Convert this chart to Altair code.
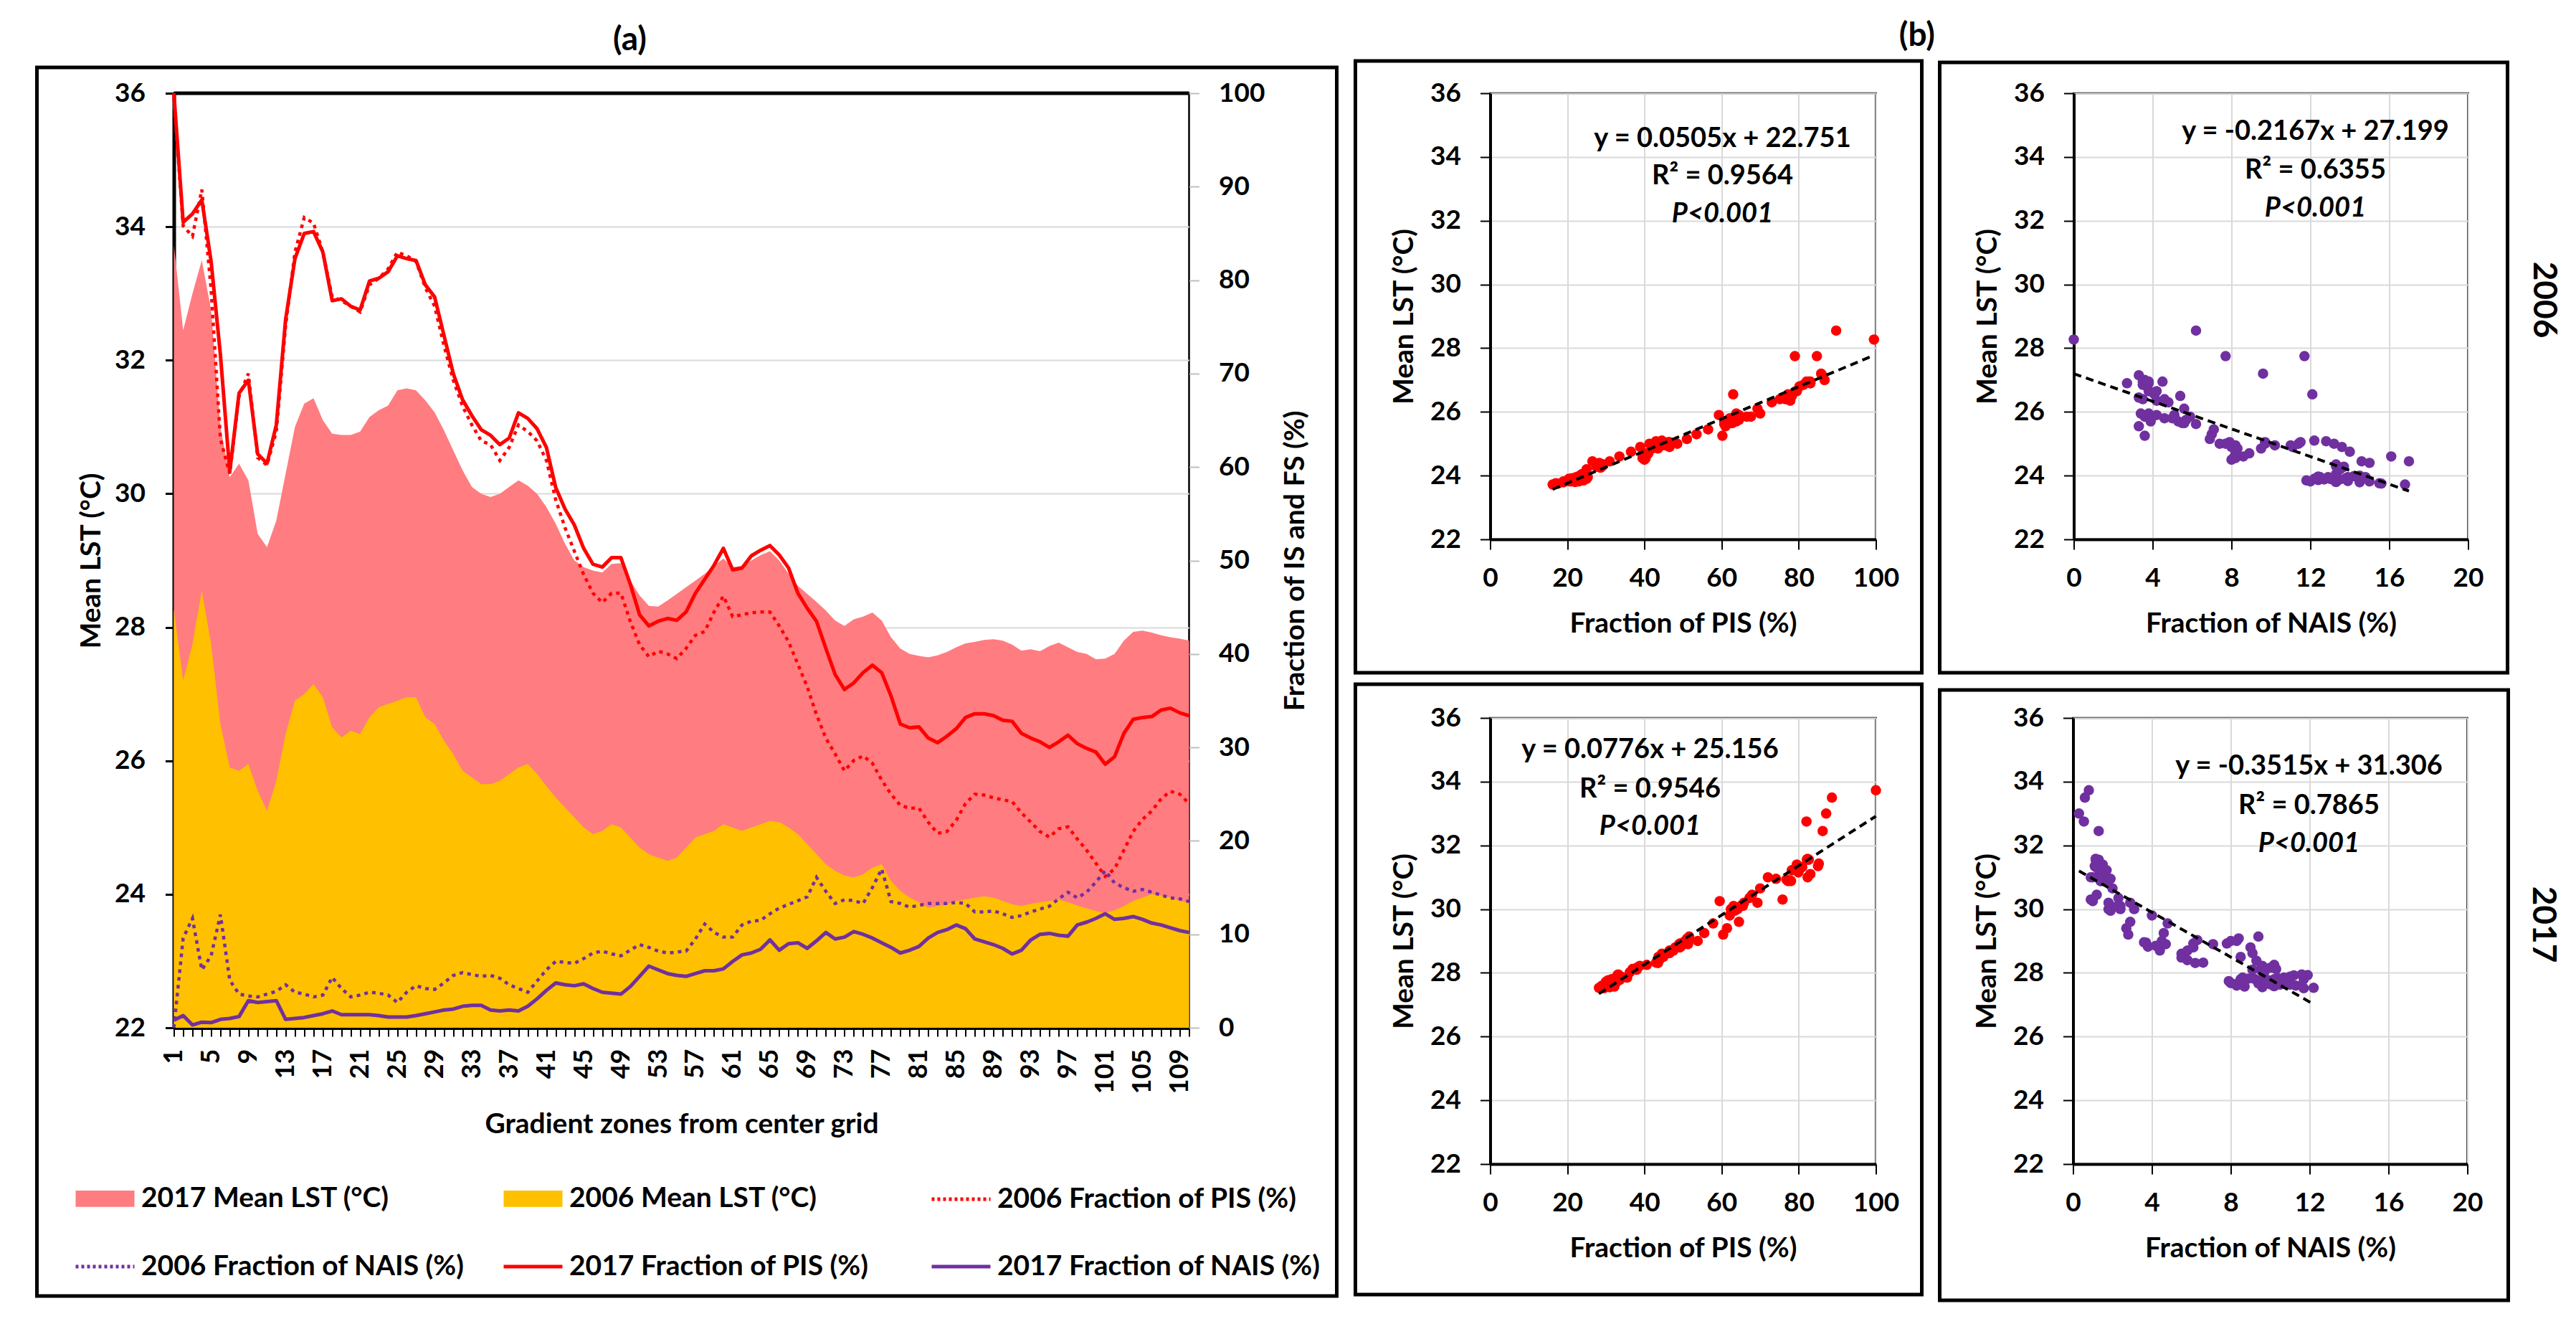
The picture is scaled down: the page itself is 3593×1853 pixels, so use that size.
import altair as alt
import pandas as pd

# ---------------- data ----------------
zones = list(range(1, 111))
zone_labels = list(range(1, 110, 4))
lst_ticks = list(range(22, 37, 2))
frac_ticks = list(range(0, 101, 10))
pis_ticks = list(range(0, 101, 20))
nais_ticks = list(range(0, 21, 4))

lst_2017 = [33.73, 32.45, 33.0, 33.5, 32.75, 31.0, 30.25, 30.45, 30.2, 29.4,
            29.2, 29.6, 30.3, 31.0, 31.35, 31.43, 31.1, 30.9, 30.88, 30.88,
            30.93, 31.15, 31.25, 31.32, 31.55, 31.58, 31.55, 31.4, 31.22, 30.95,
            30.65, 30.35, 30.1, 30.0, 29.95, 30.0, 30.1, 30.2, 30.12, 30.0,
            29.8, 29.55, 29.25, 29.0, 28.9, 28.85, 28.82, 28.95, 28.96, 28.7,
            28.48, 28.32, 28.31, 28.4, 28.5, 28.6, 28.7, 28.8, 28.92, 29.03,
            28.9, 28.92, 29.0, 29.08, 29.14, 29.0, 28.8, 28.62, 28.5, 28.38,
            28.25, 28.1, 28.02, 28.12, 28.16, 28.22, 28.1, 27.85, 27.68, 27.6,
            27.57, 27.55, 27.58, 27.63, 27.7, 27.76, 27.78, 27.81, 27.82, 27.8,
            27.74, 27.65, 27.67, 27.64, 27.72, 27.77, 27.7, 27.63, 27.6, 27.52,
            27.53, 27.6, 27.8, 27.93, 27.95, 27.92, 27.88, 27.85, 27.83, 27.8]

lst_2006 = [28.27, 27.2, 27.75, 28.55, 27.75, 26.55, 25.9, 25.85, 25.95, 25.55,
            25.25, 25.7, 26.4, 26.9, 27.0, 27.15, 26.95, 26.5, 26.35, 26.45,
            26.4, 26.65, 26.8, 26.85, 26.9, 26.95, 26.95, 26.65, 26.55, 26.3,
            26.1, 25.85, 25.75, 25.65, 25.65, 25.7, 25.8, 25.9, 25.95, 25.8,
            25.62, 25.45, 25.3, 25.15, 25.0, 24.9, 24.95, 25.05, 25.0, 24.85,
            24.7, 24.6, 24.55, 24.5, 24.55, 24.7, 24.85, 24.9, 24.95, 25.05,
            25.0, 24.95, 25.0, 25.05, 25.1, 25.08, 25.0, 24.9, 24.75, 24.6,
            24.45, 24.35, 24.28, 24.25, 24.3, 24.4, 24.45, 24.2, 24.05, 23.95,
            23.88, 23.8, 23.82, 23.85, 23.9, 23.92, 23.95, 23.97, 23.95, 23.9,
            23.85, 23.82, 23.86, 23.88, 23.9, 23.92, 23.88, 23.83, 23.79, 23.75,
            23.72, 23.76, 23.82, 23.9, 23.95, 24.0, 23.98, 23.95, 23.9, 23.88]

pis_2006 = [99.5, 85.8, 84.7, 89.7, 79.0, 63.0, 59.3, 67.6, 70.0, 61.0,
            60.2, 63.8, 75.1, 83.0, 86.7, 86.1, 83.0, 78.2, 77.8, 77.2,
            76.6, 79.5, 80.2, 81.2, 83.0, 82.6, 82.0, 79.2, 77.2, 73.0,
            69.3, 66.5, 64.5, 62.8, 62.4, 60.7, 62.1, 64.5, 63.8, 62.8,
            60.7, 56.5, 53.5, 51.0, 48.5, 46.5, 45.5, 46.5, 46.5, 43.5,
            41.0, 39.7, 40.3, 40.0, 39.5, 40.6, 42.0, 42.4, 44.5, 46.2,
            44.0, 44.2, 44.4, 44.5, 44.5, 43.0, 41.3, 38.9, 36.5, 33.5,
            31.0, 29.3, 27.5, 28.6, 29.1, 28.3, 26.5, 25.0, 23.8, 23.5,
            23.5, 22.0, 20.8, 21.0, 22.2, 24.0, 25.0, 24.9, 24.6, 24.4,
            24.2, 23.0, 22.0, 21.0, 20.4, 21.3, 21.5, 20.2, 19.0, 17.6,
            16.2, 17.0, 19.0, 21.0, 22.3, 23.2, 24.5, 25.3, 25.0, 24.0]

nais_2006 = [0.0, 9.6, 11.7, 6.2, 7.7, 12.1, 5.1, 3.6, 3.4, 3.3,
             3.6, 3.9, 4.6, 3.8, 3.6, 3.3, 3.5, 5.4, 4.2, 3.3,
             3.5, 3.8, 3.7, 3.5, 2.7, 3.8, 4.5, 4.2, 4.1, 4.8,
             5.6, 5.9, 5.7, 5.5, 5.6, 5.3, 4.6, 4.2, 3.8, 5.0,
             6.2, 7.1, 7.0, 6.9, 7.4, 8.0, 8.2, 7.9, 7.7, 8.3,
             8.9, 8.6, 8.2, 8.0, 8.1, 8.2, 9.5, 11.1, 10.2, 9.7,
             9.7, 11.0, 11.4, 11.5, 12.2, 12.8, 13.2, 13.6, 14.0, 16.1,
             14.6, 13.3, 13.7, 13.6, 13.3, 15.0, 17.0, 13.5, 13.3, 12.9,
             13.1, 13.3, 13.3, 13.3, 13.4, 13.3, 12.4, 12.4, 12.5, 12.2,
             11.8, 12.0, 12.4, 12.7, 13.0, 13.8, 14.5, 13.9, 14.5, 15.6,
             16.8, 15.5, 15.0, 14.6, 14.8, 14.5, 14.2, 13.9, 13.8, 13.5]

pis_2017 = [100.0, 86.2, 87.1, 88.6, 82.0, 72.0, 59.5, 67.9, 69.3, 61.4,
            60.4, 64.5, 75.8, 82.3, 85.0, 85.2, 83.0, 77.8, 78.0, 77.2,
            76.8, 79.9, 80.2, 80.9, 82.6, 82.3, 82.1, 79.5, 78.2, 74.1,
            70.0, 67.2, 65.5, 64.0, 63.4, 62.4, 63.1, 65.8, 65.2, 64.1,
            62.1, 57.8, 55.5, 53.8, 51.3, 49.6, 49.3, 50.3, 50.3, 47.5,
            44.2, 43.0, 43.5, 43.8, 43.6, 44.5, 46.5, 48.0, 49.5, 51.3,
            49.0, 49.2, 50.5, 51.1, 51.6, 50.6, 49.2, 46.5, 44.9, 43.5,
            40.6, 37.8, 36.2, 36.9, 38.0, 38.8, 38.0, 35.5, 32.5, 32.1,
            32.2, 31.0, 30.5, 31.2, 32.0, 33.2, 33.6, 33.6, 33.4, 32.9,
            32.8, 31.5, 31.0, 30.6, 30.0, 30.6, 31.3, 30.4, 29.9, 29.5,
            28.2, 29.0, 31.5, 33.0, 33.2, 33.3, 34.0, 34.2, 33.7, 33.4]

nais_2017 = [0.8, 1.3, 0.3, 0.6, 0.55, 0.9, 1.0, 1.2, 2.9, 2.7,
             2.8, 2.9, 0.9, 1.0, 1.1, 1.3, 1.5, 1.8, 1.4, 1.4,
             1.4, 1.4, 1.3, 1.15, 1.15, 1.15, 1.3, 1.5, 1.7, 1.9,
             2.0, 2.3, 2.4, 2.4, 1.9, 1.8, 1.9, 1.8, 2.3, 3.1,
             4.0, 4.8, 4.6, 4.5, 4.7, 4.2, 3.8, 3.7, 3.6, 4.4,
             5.5, 6.6, 6.2, 5.8, 5.6, 5.5, 5.8, 6.1, 6.1, 6.3,
             7.1, 7.8, 8.0, 8.4, 9.4, 8.3, 9.0, 9.1, 8.5, 9.3,
             10.2, 9.5, 9.7, 10.3, 10.0, 9.6, 9.1, 8.6, 8.0, 8.3,
             8.7, 9.6, 10.2, 10.5, 11.0, 10.6, 9.5, 9.2, 8.9, 8.5,
             7.9, 8.3, 9.4, 10.0, 10.1, 9.9, 9.8, 11.0, 11.3, 11.7,
             12.2, 11.6, 11.7, 11.9, 11.6, 11.2, 11.0, 10.7, 10.4, 10.2]

series_names = ["2017 Mean LST (°C)", "2006 Mean LST (°C)", "2006 Fraction of PIS (%)",
                "2006 Fraction of NAIS (%)", "2017 Fraction of PIS (%)", "2017 Fraction of NAIS (%)"]

fit_slopes = [0.0505, -0.2167, 0.0776, -0.3515]
fit_intercepts = [22.751, 27.199, 25.156, 31.306]
fit_r2 = [0.9564, 0.6355, 0.9546, 0.7865]
p_label = "P<0.001"
year_labels = ["2006", "2017"]
panel_tags = ["(a)", "(b)"]

# ---------------- styling ----------------
PINK, ORANGE, RED, PURPLE = "#FF7C80", "#FFC000", "#FF0000", "#7030A0"
FONT = "Lato"
GRID = "#D9D9D9"
DOT = [5, 6]

df = pd.DataFrame({
    "zone": zones, "lst_2017": lst_2017, "lst_2006": lst_2006,
    "pis_2006": pis_2006, "nais_2006": nais_2006,
    "pis_2017": pis_2017, "nais_2017": nais_2017,
})
one = pd.DataFrame({"k": [0]})

# ---------------- panel (a) ----------------
W_L, H_L = 1416, 1303

label_expr = "indexof([" + ",".join(str(v) for v in zone_labels) + "], datum.value) >= 0 ? datum.label : ''"
x_axis = alt.Axis(values=zones, labelExpr=label_expr, labelAngle=270, labelOverlap=False,
                  labelFlush=False, labelFontSize=36, labelPadding=17, tickSize=12, tickWidth=2,
                  tickColor="black", domainColor="black", domainWidth=5, grid=False,
                  title="Gradient zones from center grid", titleFontSize=39, titlePadding=24)
x_zone = alt.X("zone:Q", scale=alt.Scale(domain=[1, 110], nice=False, zero=False), axis=x_axis)

lst_axis = alt.Axis(values=lst_ticks, grid=True, gridColor=GRID, gridWidth=2, tickSize=12,
                    tickWidth=3, tickColor="black", domainColor="black", domainWidth=5,
                    labelFontSize=37, labelPadding=28, title="Mean LST (°C)",
                    titleFontSize=39, titleX=-115, titleBaseline="middle")
frac_axis = alt.Axis(orient="right", values=frac_ticks, grid=False, tickSize=14, tickWidth=2,
                     tickColor="#BFBFBF", domain=False, labelFontSize=37, labelPadding=27,
                     title="Fraction of IS and FS (%)", titleFontSize=39, titleAngle=270,
                     titleX=148, titleBaseline="middle")


def y_lst(field):
    return alt.Y(f"{field}:Q", scale=alt.Scale(domain=[22, 36], nice=False, zero=False), axis=lst_axis)


def y_frac(field):
    return alt.Y(f"{field}:Q", scale=alt.Scale(domain=[0, 100], nice=False, zero=False), axis=frac_axis)


legend = alt.Legend(title=None, orient="none", legendX=-119, legendY=1518, columns=3,
                    gridAlign="all", symbolSize=1681, symbolStrokeWidth=5, labelFont=FONT,
                    labelFontSize=39, labelFontWeight="bold", labelColor="black", labelLimit=1000,
                    labelOffset=27.5, rowPadding=50, columnPadding=44, padding=0)
rect_path = "M-2,-0.55H2V0.55H-2Z"
line_path = "M-2,0H2"
# entries are filled column by column, so list them column-wise for a row-wise read
leg_order = [series_names[i] for i in (0, 3, 1, 4, 2, 5)]
leg_fill = {series_names[0]: PINK, series_names[1]: ORANGE}
leg_stroke = {series_names[2]: RED, series_names[3]: PURPLE, series_names[4]: RED, series_names[5]: PURPLE}
leg_dash = {series_names[2]: [4, 4], series_names[3]: [4, 4]}
leg_df = pd.DataFrame({"series": series_names})
legend_layer = alt.Chart(leg_df).mark_point(opacity=1).encode(
    x=alt.value(W_L / 2), y=alt.value(H_L - 6),
    shape=alt.Shape("series:N", legend=legend,
                    scale=alt.Scale(domain=leg_order,
                                    range=[rect_path if s in leg_fill else line_path for s in leg_order])),
    fill=alt.Fill("series:N", legend=legend,
                  scale=alt.Scale(domain=leg_order,
                                  range=[leg_fill.get(s, "transparent") for s in leg_order])),
    stroke=alt.Stroke("series:N", legend=legend,
                      scale=alt.Scale(domain=leg_order,
                                      range=[leg_stroke.get(s, "transparent") for s in leg_order])),
    strokeDash=alt.StrokeDash("series:N", legend=legend,
                              scale=alt.Scale(domain=leg_order,
                                              range=[leg_dash.get(s, [1, 0]) for s in leg_order])),
)

base = alt.Chart(df).encode(x=x_zone)
area17 = base.mark_area(color=PINK, opacity=1).encode(y=y_lst("lst_2017"), y2=alt.datum(22))
area06 = base.mark_area(color=ORANGE, opacity=1).encode(y=y_lst("lst_2006"), y2=alt.datum(22))

top_rule = alt.Chart(one).mark_rule(color="black", strokeWidth=5).encode(
    x=alt.value(0), x2=alt.value(W_L), y=alt.value(0))
box_a = alt.Chart(one).mark_rect(fill="transparent", stroke="black", strokeWidth=5).encode(
    x=alt.value(-191), x2=alt.value(W_L + 206), y=alt.value(-36), y2=alt.value(H_L + 374))
tag_a = alt.Chart(one).mark_text(text=panel_tags[0], font=FONT, fontSize=46, fontWeight="bold",
                                 color="black").encode(x=alt.value(636), y=alt.value(-74))

areas = alt.layer(legend_layer, area17, area06, top_rule, box_a, tag_a)

l_pis06 = base.mark_line(color=RED, strokeWidth=4.5, strokeDash=DOT).encode(y=y_frac("pis_2006"))
l_nais06 = base.mark_line(color=PURPLE, strokeWidth=4.5, strokeDash=DOT).encode(y=y_frac("nais_2006"))
l_pis17 = base.mark_line(color=RED, strokeWidth=5, strokeJoin="round").encode(y=y_frac("pis_2017"))
l_nais17 = base.mark_line(color=PURPLE, strokeWidth=5, strokeJoin="round").encode(y=y_frac("nais_2017"))
lines = alt.layer(l_pis06, l_nais06, l_pis17, l_nais17)

left = alt.layer(areas, lines).resolve_scale(y="independent").properties(width=W_L, height=H_L)

# ---------------- panel (b) ----------------
W1, W2, H_S = 538, 550, 622


def scatter(i, xfield, yfield, color, xticks, xmax, xtitle, w, eq_x, eq_y, box, year=None):
    xs = alt.Scale(domain=[0, xmax], nice=False, zero=False)
    ys = alt.Scale(domain=[22, 36], nice=False, zero=False)
    xax = alt.Axis(values=xticks, grid=True, gridColor=GRID, gridWidth=2, tickSize=14, tickWidth=2,
                   tickColor="black", domainColor="black", domainWidth=4, labelFontSize=37,
                   labelPadding=22, labelFlush=False, title=xtitle, titleFontSize=39, titlePadding=26)
    yax = alt.Axis(values=lst_ticks, grid=True, gridColor=GRID, gridWidth=2, tickSize=14, tickWidth=2,
                   tickColor="black", domainColor="black", domainWidth=4, labelFontSize=37,
                   labelPadding=27, title="Mean LST (°C)", titleFontSize=39, titlePadding=16)
    b = alt.Chart(df)
    pts = b.mark_circle(size=210, opacity=1, color=color).encode(
        x=alt.X(f"{xfield}:Q", scale=xs, axis=xax), y=alt.Y(f"{yfield}:Q", scale=ys, axis=yax))
    fit = (b.transform_calculate(yfit=f"{fit_slopes[i]} * datum.{xfield} + {fit_intercepts[i]}")
           .mark_line(color="black", strokeWidth=4, strokeDash=[11, 7])
           .encode(x=alt.X(f"{xfield}:Q", scale=xs, axis=xax),
                   y=alt.Y("yfit:Q", scale=ys, axis=yax), order=alt.Order(f"{xfield}:Q")))
    eq1 = f"y = {fit_slopes[i]:.4f}x + {fit_intercepts[i]:.3f}"
    eq2 = f"R² = {fit_r2[i]:.4f}"
    t1 = alt.Chart(one).mark_text(text=eq1, font=FONT, fontSize=38, fontWeight="bold", color="black").encode(
        x=alt.value(eq_x), y=alt.value(eq_y[0]))
    t2 = alt.Chart(one).mark_text(text=eq2, font=FONT, fontSize=38, fontWeight="bold", color="black").encode(
        x=alt.value(eq_x), y=alt.value(eq_y[1]))
    t3 = alt.Chart(one).mark_text(text=p_label, font=FONT, fontSize=38, fontWeight="bold",
                                  fontStyle="italic", color="black").encode(
        x=alt.value(eq_x), y=alt.value(eq_y[2]))
    bx = alt.Chart(one).mark_rect(fill="transparent", stroke="black", strokeWidth=5).encode(
        x=alt.value(box[0]), x2=alt.value(box[1]), y=alt.value(box[2]), y2=alt.value(box[3]))
    layers = [pts, fit, t1, t2, t3, bx]
    if year is not None:
        layers.append(alt.Chart(one).mark_text(text=year, font=FONT, fontSize=46, fontWeight="bold",
                                               color="black", angle=90).encode(
            x=alt.value(w + 105), y=alt.value(288)))
    return alt.layer(*layers).properties(width=w, height=H_S)


s1 = scatter(0, "pis_2006", "lst_2006", RED, pis_ticks, 100, "Fraction of PIS (%)", W1,
             324, [64, 116, 169], [-188, W1 + 64, -45, H_S + 186])
s2 = scatter(1, "nais_2006", "lst_2006", PURPLE, nais_ticks, 20, "Fraction of NAIS (%)", W2,
             337, [54, 108, 161], [-187, W2 + 55, -43, H_S + 186], year=year_labels[0])
s3 = scatter(2, "pis_2017", "lst_2017", RED, pis_ticks, 100, "Fraction of PIS (%)", W1,
             223, [45, 100, 152], [-188, W1 + 64, -47, H_S + 182])
s4 = scatter(3, "nais_2017", "lst_2017", PURPLE, nais_ticks, 20, "Fraction of NAIS (%)", W2,
             329, [68, 123, 176], [-186, W2 + 57, -39, H_S + 190], year=year_labels[1])

right = alt.vconcat(
    alt.hconcat(s1, s2, spacing=17),
    alt.hconcat(s3, s4, spacing=17),
    spacing=8,
    title=alt.TitleParams(text=panel_tags[1], font=FONT, fontSize=46, fontWeight="bold",
                          color="black", anchor="start", frame="bounds", dx=762, offset=7),
)

chart = (
    alt.hconcat(left, right, spacing=18)
    .properties(padding={"left": 39.5, "top": 19, "right": 5, "bottom": 5})
    .configure(font=FONT)
    .configure_view(stroke="black", strokeWidth=2.5)
    .configure_axis(labelFont=FONT, titleFont=FONT, labelFontWeight="bold", titleFontWeight="bold",
                    labelColor="black", titleColor="black")
)

chart.save("out.html", embed_options={"renderer": "svg", "actions": False})
